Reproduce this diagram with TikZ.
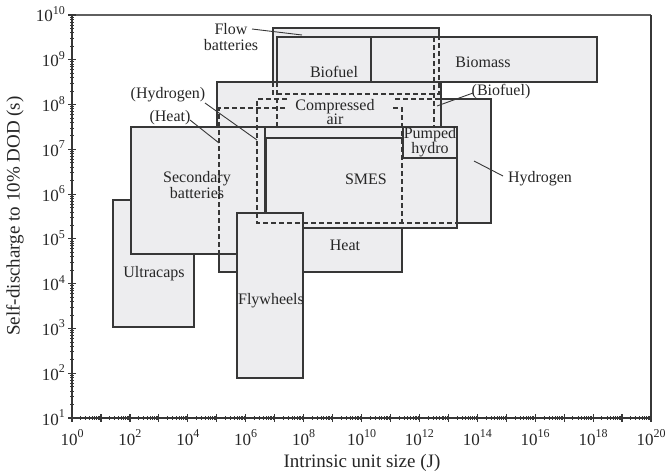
\documentclass[tikz,border=0pt]{standalone}
\usepackage{fontspec}
\setmainfont{Liberation Serif}
\definecolor{boxfill}{RGB}{237,237,239}
\definecolor{edge}{RGB}{55,55,55}
\newcommand\tpow[1]{10\raisebox{7.5pt}{\fontsize{12}{12}\selectfont#1}}
\begin{document}
\begin{tikzpicture}[x=1pt,y=-1pt,
  box/.style={fill=boxfill,draw=edge,line width=1.6pt},
  hidden/.style={draw=edge,line width=1.5pt,dash pattern=on 5pt off 3pt},
  lbl/.style={font=\fontsize{16}{16}\selectfont,inner sep=0pt,align=center,text=black!85},
  leader/.style={draw=edge,line width=0.9pt},
  ticklbl/.style={font=\fontsize{17}{17}\selectfont,inner sep=0pt,text=black!85},
  axtitle/.style={font=\fontsize{19}{19}\selectfont,inner sep=0pt,text=black!85},
  tickmark/.style={draw=edge,line width=0.8pt}]
\useasboundingbox (0,0) rectangle (665,475);
% ---------- boxes, back to front ----------
\filldraw[box] (273,28) rectangle (439,94);   % flow batteries
\filldraw[box] (277,37) rectangle (434,127);  % biofuel
\filldraw[box] (371,37) rectangle (597,82);   % biomass
\filldraw[box] (219,108) rectangle (402,272); % heat
\filldraw[box] (257,99) rectangle (491,223);  % hydrogen
\filldraw[box] (217,82) rectangle (441,127);  % compressed air
\filldraw[box] (113,200) rectangle (194,327); % ultracaps
\filldraw[box] (131,127) rectangle (265,254); % secondary batteries
\filldraw[box] (266,138) rectangle (457,228); % SMES
\filldraw[box] (403,127) rectangle (457,158); % pumped hydro
\filldraw[box] (237,213) rectangle (303,378); % flywheels
% ---------- hidden outlines ----------
\draw[hidden] (273,82) -- (273,94) -- (439,94) -- (439,37);   % flow batteries
\draw[hidden] (277,82) -- (277,127);                          % biofuel left
\draw[hidden] (434,37) -- (434,127);                          % biofuel right
\draw[hidden] (287,99) -- (257,99) -- (257,223) -- (457,223); % hydrogen
\draw[hidden] (395,99) -- (441,99);
\draw[hidden] (285,108) -- (219,108) -- (219,254);            % heat
\draw[hidden] (393,108) -- (402,108) -- (402,228);
% ---------- axes ----------
\draw[draw=edge!80,line width=1.2pt] (72,15) -- (651,15);
\draw[draw=edge,line width=2.6pt] (651,15) -- (651,418);
\foreach \k in {0,...,19}{
  \foreach \m in {2,...,9}{
    \draw[tickmark] ({72+28.95*(\k+log10(\m))},416) -- ++(0,4);
  }
}
\foreach \k in {0,...,20}{
  \draw[tickmark,line width=1.2pt] ({72+28.95*\k},414) -- ++(0,8);
}
\foreach \j in {0,...,8}{
  \foreach \m in {2,...,9}{
    \draw[tickmark] (70,{418-44.78*(\j+log10(\m))}) -- ++(4,0);
  }
}
\foreach \j in {0,...,9}{
  \draw[tickmark,line width=1.2pt] (68,{418-44.78*\j}) -- ++(8,0);
}
\draw[draw=edge,line width=2.4pt] (72,15) -- (72,418) -- (651,418);
\foreach \k in {0,2,...,20}{
  \node[ticklbl,anchor=base] (xl\k) at ({72+28.95*\k},445) {\tpow{\k}};
}
\foreach \j in {1,...,10}{
  \node[ticklbl,anchor=base east] (yl\j) at (65,{418-44.78*(\j-1)+7}) {\tpow{\j}};
}
\node[axtitle,rotate=90] (ytitle) at (15,216) {Self-discharge to 10\% DOD (s)};
\node[axtitle] (xtitle) at (362,463) {Intrinsic unit size (J)};
% ---------- labels ----------
\node[lbl] (flow) at (231,37) {Flow\\batteries};
\node[lbl] (biofuel) at (334,72) {Biofuel};
\node[lbl] (biomass) at (483,62) {Biomass};
\node[lbl] (comp) at (335,112) {Compressed\\[-1.5pt]air};
\node[lbl] (hyd2) at (168,95) {(Hydrogen)};
\node[lbl] (heat2) at (170,118) {(Heat)};
\node[lbl] (biof2) at (501,92) {(Biofuel)};
\node[lbl] (pumped) at (430,142) {Pumped\\[-1pt]hydro};
\node[lbl] (second) at (197,185) {Secondary\\batteries};
\node[lbl] (smes) at (366,179) {SMES};
\node[lbl] (hydrogen) at (540,179) {Hydrogen};
\node[lbl] (heat) at (345,245) {Heat};
\node[lbl] (ultra) at (154,274) {Ultracaps};
\node[lbl] (fly) at (271,301) {Flywheels};
% ---------- leaders ----------
\coordinate (flowA) at (252,29);   \coordinate (flowB) at (302,35);
\coordinate (hydA) at (205,103);   \coordinate (hydB) at (257,140);
\coordinate (heatA) at (190,120);  \coordinate (heatB) at (219,143);
\coordinate (bioA) at (473,93);    \coordinate (bioB) at (437,106);
\coordinate (hA) at (503,176);     \coordinate (hB) at (474,161);
\draw[leader] (flowA) -- (flowB);
\draw[leader] (hydA) -- (hydB);
\draw[leader] (heatA) -- (heatB);
\draw[leader] (bioA) -- (bioB);
\draw[leader] (hA) -- (hB);
\end{tikzpicture}
\end{document}
